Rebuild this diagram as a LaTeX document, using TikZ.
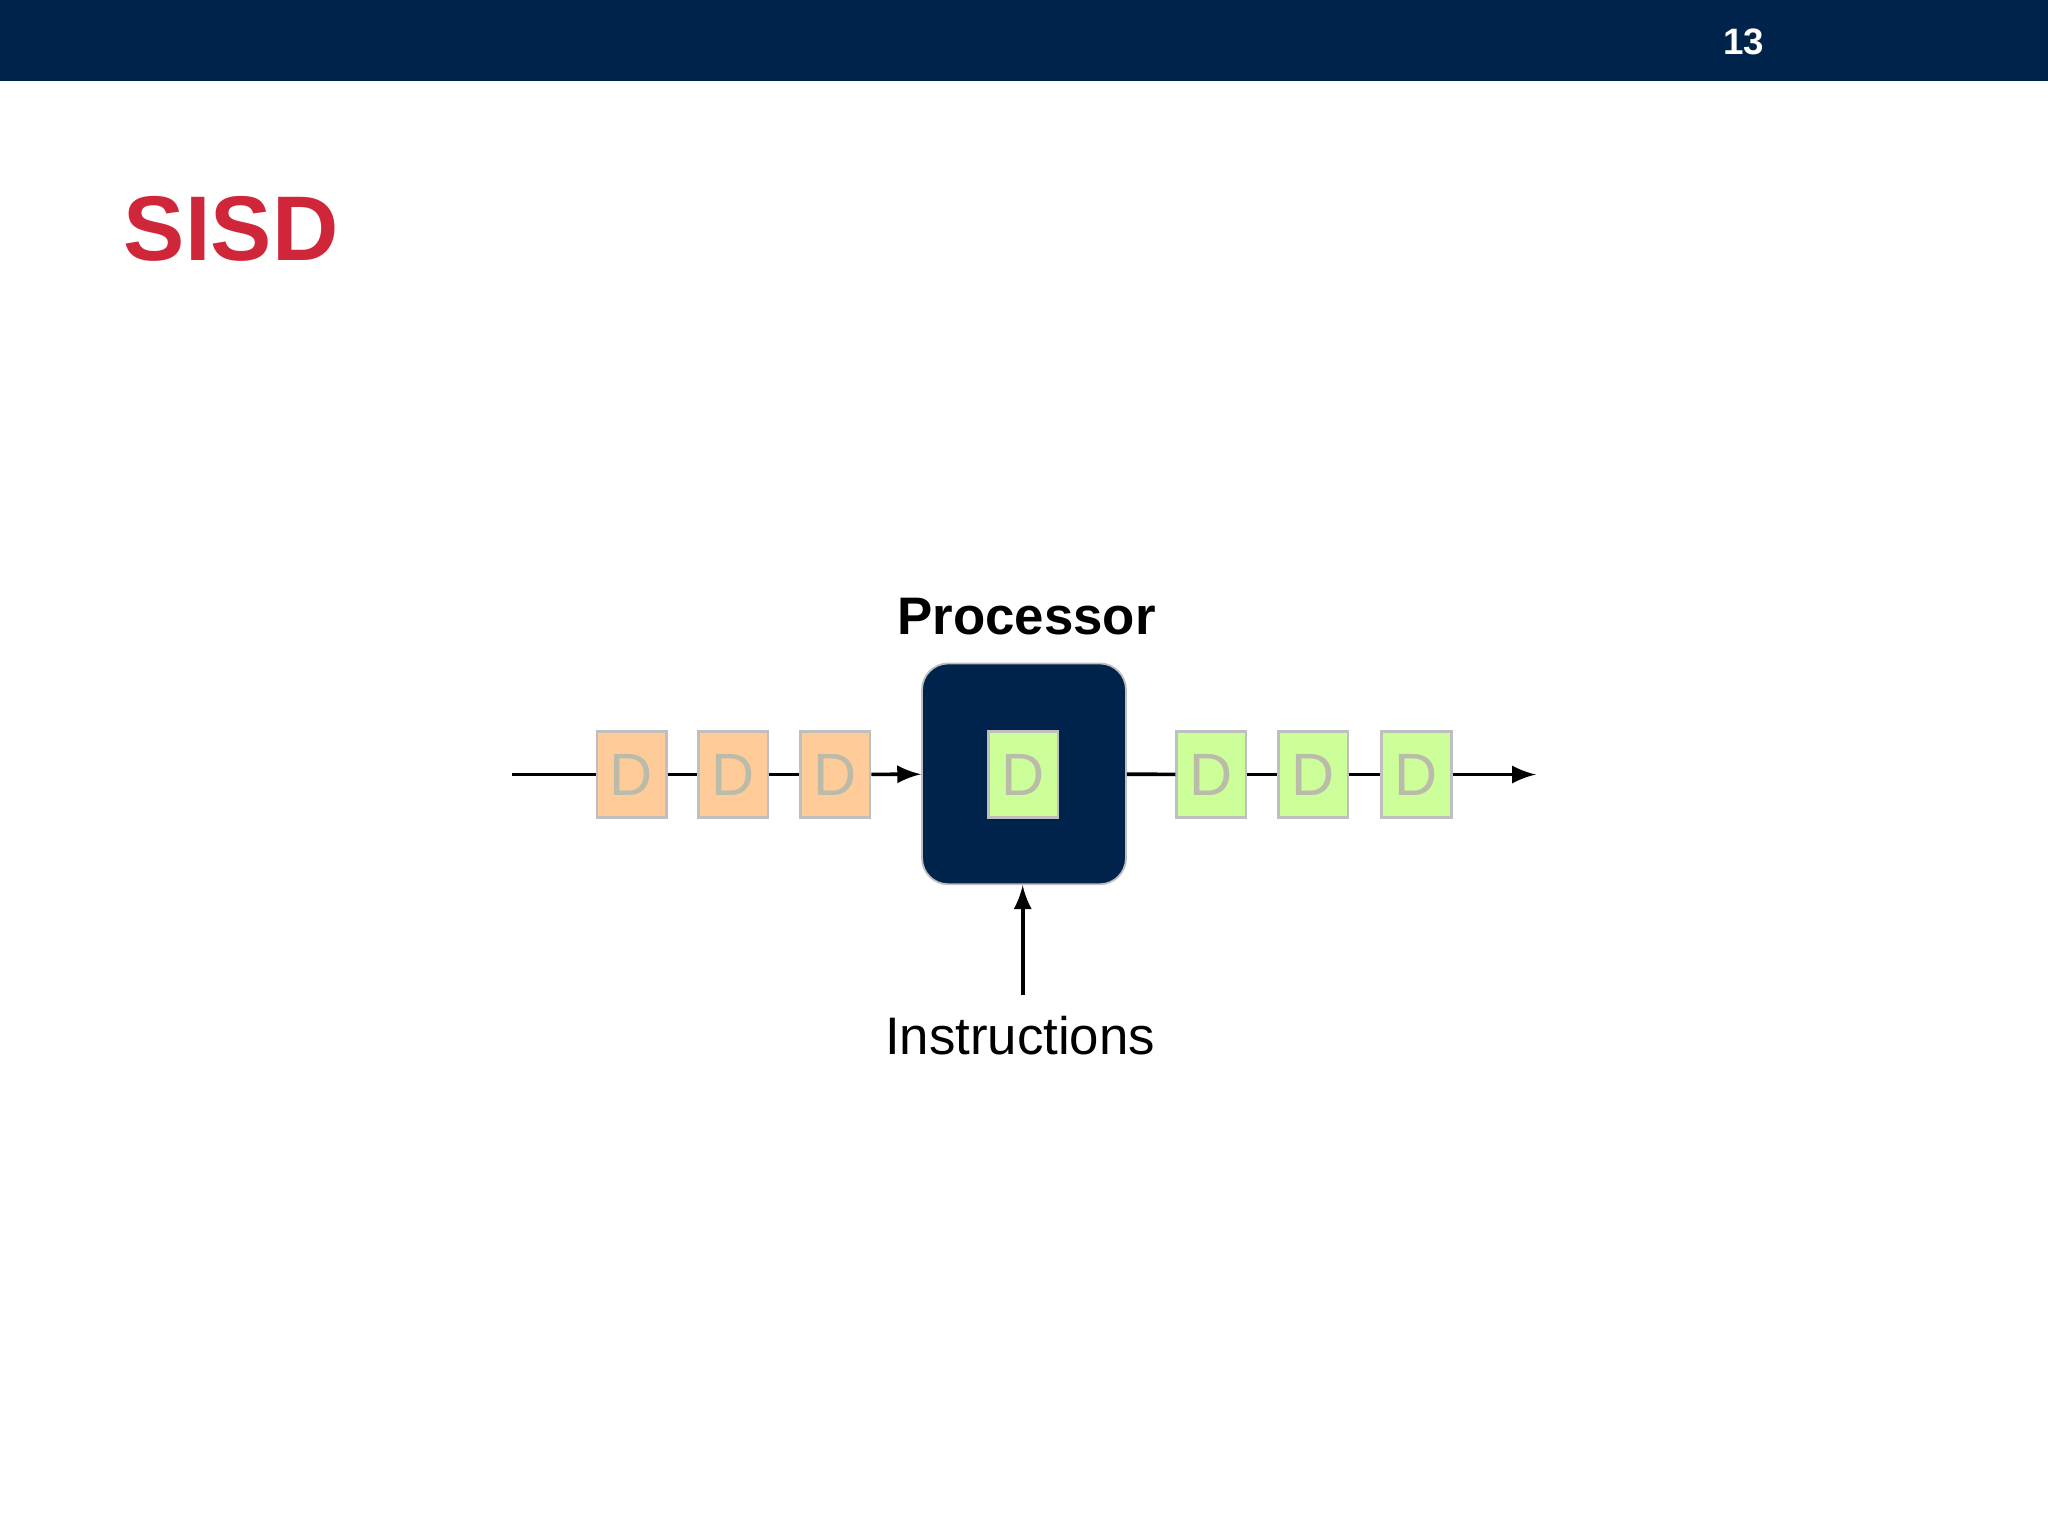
\documentclass[tikz,border=0pt]{standalone}
\usepackage{fontspec}
\setmainfont{Liberation Sans}
\definecolor{navy}{HTML}{00234B}
\definecolor{sred}{HTML}{D0263A}
\definecolor{org}{HTML}{FFCC99}
\definecolor{grn}{HTML}{CCFF99}
\definecolor{dtxt}{HTML}{BBBBAA}
\begin{document}
\begin{tikzpicture}[x=0.01cm,y=-0.01cm,
  dbox/.style={draw=black!25,line width=0.6pt,minimum width=0.53cm,minimum height=0.66cm,inner sep=0pt,text=dtxt,font=\fontsize{13pt}{15pt}\selectfont},
  ob/.style={dbox,fill=org}, gb/.style={dbox,fill=grn},
  ln/.style={line width=0.8pt}, ar/.style={ln,-latex}]
\useasboundingbox (0,0) rectangle (1568,1176);
\fill[navy] (0,0) rectangle (1568,62);
\node[text=white,font=\bfseries\fontsize{8pt}{10pt}\selectfont] (pg) at (1335,32) {13};
\node[text=sred,font=\bfseries\fontsize{20pt}{24pt}\selectfont] (title) at (177,175) {SISD};
\node[font=\bfseries\fontsize{11.5pt}{14pt}\selectfont] (plabel) at (786,472) {Processor};
\node[draw=black!25,fill=navy,rounded corners=0.2cm,minimum width=1.56cm,minimum height=1.69cm] (proc) at (784,592.5) {};
\node[gb] (pd) at (783.5,593) {D};
\node[ob] (o1) at (483.5,593) {D};
\node[ob] (o2) at (561.5,593) {D};
\node[ob] (o3) at (639.5,593) {D};
\node[gb] (g1) at (927.5,593) {D};
\node[gb] (g2) at (1005.5,593) {D};
\node[gb] (g3) at (1084.5,593) {D};
\coordinate (in) at (392,593);
\coordinate (out) at (1176,593);
\draw[ln] (in) -- (o1); \draw[ln] (o1) -- (o2); \draw[ln] (o2) -- (o3);
\draw[ar] (o3) -- (proc);
\draw[ln] (proc) -- (g1); \draw[ln] (g1) -- (g2); \draw[ln] (g2) -- (g3);
\draw[ar] (g3) -- (out);
\node[font=\fontsize{11.5pt}{14pt}\selectfont] (instr) at (781,793) {Instructions};
\coordinate (ib) at (783,762);
\draw[ar] (ib) -- (proc.south -| ib);
\end{tikzpicture}
\end{document}
